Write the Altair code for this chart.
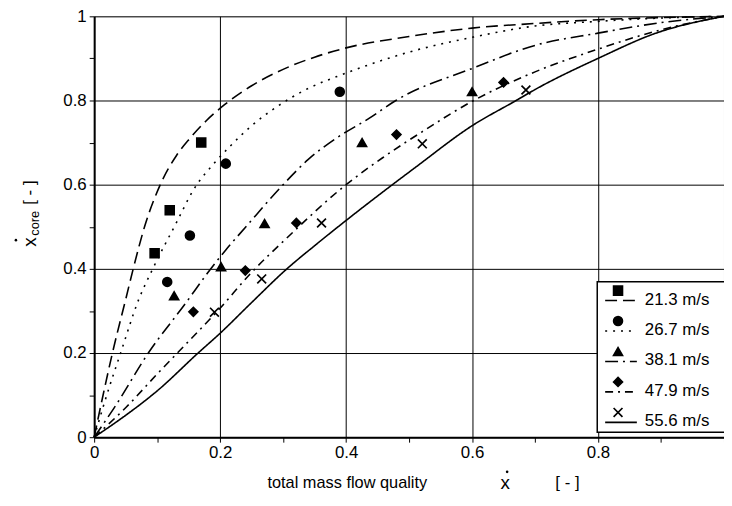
import altair as alt
import pandas as pd

FONT = "Liberation Sans"

series = ["21.3 m/s", "26.7 m/s", "38.1 m/s", "47.9 m/s", "55.6 m/s"]
shapes = ["square", "circle", "triangle-up", "diamond", "M-1,-1L1,1M-1,1L1,-1"]
dashes = [[12, 6], [2, 6], [13, 5, 2, 5], [8, 5, 2, 5], [1, 0]]
tick_values = [0, 0.1, 0.2, 0.3, 0.4, 0.5, 0.6, 0.7, 0.8, 0.9, 1.0]

# measured points (x, x_core)
pts_x_213 = [0.096, 0.12, 0.17]
pts_y_213 = [0.437, 0.539, 0.70]
pts_x_267 = [0.116, 0.152, 0.209, 0.39]
pts_y_267 = [0.369, 0.479, 0.65, 0.821]
pts_x_381 = [0.127, 0.2015, 0.2706, 0.4254, 0.60]
pts_y_381 = [0.336, 0.405, 0.5075, 0.70, 0.821]
pts_x_479 = [0.1575, 0.24, 0.321, 0.48, 0.65]
pts_y_479 = [0.298, 0.396, 0.509, 0.719, 0.843]
pts_x_556 = [0.191, 0.266, 0.361, 0.521, 0.6855]
pts_y_556 = [0.297, 0.376, 0.509, 0.697, 0.825]

# model curves
crv_x_213 = [0, 0.013, 0.029, 0.05, 0.062, 0.08, 0.105, 0.131, 0.152, 0.178, 0.207, 0.25, 0.3, 0.35, 0.4, 0.5, 0.6, 0.7, 0.8, 0.9, 1]
crv_y_213 = [0, 0.092, 0.2, 0.327, 0.4, 0.5, 0.6, 0.67, 0.71, 0.752, 0.79, 0.835, 0.874, 0.903, 0.925, 0.952, 0.972, 0.983, 0.992, 0.997, 1]
crv_x_267 = [0, 0.02, 0.042, 0.0707, 0.093, 0.131, 0.157, 0.1936, 0.215, 0.25, 0.29, 0.335, 0.398, 0.5, 0.6, 0.7, 0.8, 0.9, 1]
crv_y_267 = [0, 0.1, 0.2, 0.327, 0.4, 0.511, 0.586, 0.656, 0.69, 0.74, 0.785, 0.825, 0.864, 0.915, 0.95, 0.977, 0.988, 0.996, 1]
crv_x_381 = [0, 0.031, 0.086, 0.146, 0.18, 0.209, 0.241, 0.30, 0.34, 0.385, 0.437, 0.479, 0.6, 0.7, 0.8, 0.9, 1]
crv_y_381 = [0, 0.068, 0.2, 0.32, 0.39, 0.445, 0.5, 0.6, 0.66, 0.711, 0.758, 0.8, 0.876, 0.931, 0.96, 0.985, 1]
crv_x_479 = [0, 0.05, 0.1, 0.132, 0.199, 0.249, 0.305, 0.4, 0.458, 0.52, 0.6, 0.7, 0.8, 0.9, 1]
crv_y_479 = [0, 0.07, 0.15, 0.2, 0.305, 0.39, 0.472, 0.6, 0.664, 0.725, 0.798, 0.868, 0.922, 0.968, 1]
crv_x_556 = [0, 0.05, 0.0785, 0.1, 0.165, 0.2, 0.25, 0.306, 0.35, 0.4, 0.463, 0.51, 0.6, 0.67, 0.7, 0.8, 0.892, 1]
crv_y_556 = [0, 0.052, 0.084, 0.11, 0.2, 0.247, 0.32, 0.4, 0.455, 0.515, 0.588, 0.641, 0.74, 0.8, 0.826, 0.9, 0.96, 1]

pts = [(pts_x_213, pts_y_213), (pts_x_267, pts_y_267), (pts_x_381, pts_y_381),
       (pts_x_479, pts_y_479), (pts_x_556, pts_y_556)]
crvs = [(crv_x_213, crv_y_213), (crv_x_267, crv_y_267), (crv_x_381, crv_y_381),
        (crv_x_479, crv_y_479), (crv_x_556, crv_y_556)]

pts_rows, crv_rows = [], []
for s, (xs, ys) in zip(series, pts):
    for x, y in zip(xs, ys):
        pts_rows.append({"series": s, "x": x, "y": y})
for s, (xs, ys) in zip(series, crvs):
    for i, (x, y) in enumerate(zip(xs, ys)):
        crv_rows.append({"series": s, "x": x, "y": y, "i": i})
pts_df = pd.DataFrame(pts_rows)
crv_df = pd.DataFrame(crv_rows)
leg_df = pd.DataFrame({"series": series, "idx": list(range(len(series)))})
one = pd.DataFrame({"a": [0]})

odd = "round(datum.value*10) % 2 == 1"
axis_common = dict(
    values=tick_values, format="~g",
    grid=True, gridColor="black", gridWidth=1,
    gridOpacity={"condition": {"test": odd, "value": 0}, "value": 1},
    tickSize=5, tickColor="black", tickWidth=1,
    domainColor="black", domainWidth=2,
    labelFont=FONT, labelFontSize=17, labelColor="black",
    labelOverlap=False, labelFlush=False, title=None,
)
xscale = alt.Scale(domain=[0, 1], nice=False)
yscale = alt.Scale(domain=[0, 1], nice=False)
dash_scale = alt.Scale(domain=series, range=dashes)
shape_scale = alt.Scale(domain=series, range=shapes)

lines = alt.Chart(crv_df).mark_line(color="black", strokeWidth=1.6, interpolate="monotone").encode(
    x=alt.X("x:Q", scale=xscale, axis=alt.Axis(
        labelPadding=3, labelExpr=f"{odd} || datum.value == 1 ? '' : datum.label", **axis_common)),
    y=alt.Y("y:Q", scale=yscale, axis=alt.Axis(
        labelPadding=3, labelExpr=f"{odd} ? '' : datum.label", **axis_common)),
    strokeDash=alt.StrokeDash("series:N", scale=dash_scale, legend=None),
    order="i:Q",
)

points = alt.Chart(pts_df).mark_point(
    filled=True, fill="black", stroke="black", strokeWidth=1.7, size=80, opacity=1
).encode(
    x=alt.X("x:Q", scale=xscale),
    y=alt.Y("y:Q", scale=yscale, axis=None),
    shape=alt.Shape("series:N", scale=shape_scale, legend=None),
)

# legend
leg_y = alt.Y("idx:Q", scale=alt.Scale(domain=[0, 4], range=[286, 409], nice=False, zero=False), axis=None)
leg_box = alt.Chart(one).mark_rect(fill="white", stroke="black", strokeWidth=1.5).encode(
    x=alt.value(508), x2=alt.value(645), y=alt.value(268), y2=alt.value(420))
leg_lines = alt.Chart(leg_df).mark_rule(color="black", strokeWidth=1.6, yOffset=1).encode(
    x=alt.value(516), x2=alt.value(548), y=leg_y,
    strokeDash=alt.StrokeDash("series:N", scale=dash_scale, legend=None))
leg_pts = alt.Chart(leg_df).mark_point(
    filled=True, fill="black", stroke="black", strokeWidth=1.7, size=80, opacity=1, yOffset=-9
).encode(x=alt.value(529), y=leg_y,
         shape=alt.Shape("series:N", scale=shape_scale, legend=None))
leg_text = alt.Chart(leg_df).mark_text(
    align="left", baseline="middle", font=FONT, fontSize=17, color="black"
).encode(x=alt.value(556), y=leg_y, text="series:N")


def label(text, x, y, size=16, angle=0, align="center", baseline="alphabetic"):
    return alt.Chart(one).mark_text(
        text=text, font=FONT, fontSize=size, angle=angle, align=align,
        baseline=baseline, color="black").encode(x=alt.value(x), y=alt.value(y))


def dot(x, y):
    return alt.Chart(one).mark_circle(color="black", size=7, opacity=1).encode(
        x=alt.value(x), y=alt.value(y))


annotations = [
    label("total mass flow quality", 175, 476, size=16.5, align="left"),
    label("x", 415, 477, size=19),
    dot(417, 460),
    label("[ - ]", 478, 476, size=17),
    label("x", -65, 228, size=19, angle=270, baseline="middle"),
    dot(-79, 226),
    label("core", -60, 209, size=13, angle=270, baseline="middle"),
    label("[ - ]", -65, 178, size=17, angle=270, baseline="middle"),
]

chart = alt.layer(lines, points, leg_box, leg_lines, leg_pts, leg_text, *annotations).resolve_scale(
    y="independent"
).properties(
    width=636, height=425,
    autosize=alt.AutoSizeParams(type="none"),
    padding={"left": 87, "top": 6, "right": 0, "bottom": 60},
).configure_view(stroke=None).configure(background="white")

chart.save("out.html", embed_options={"renderer": "svg", "actions": False})
